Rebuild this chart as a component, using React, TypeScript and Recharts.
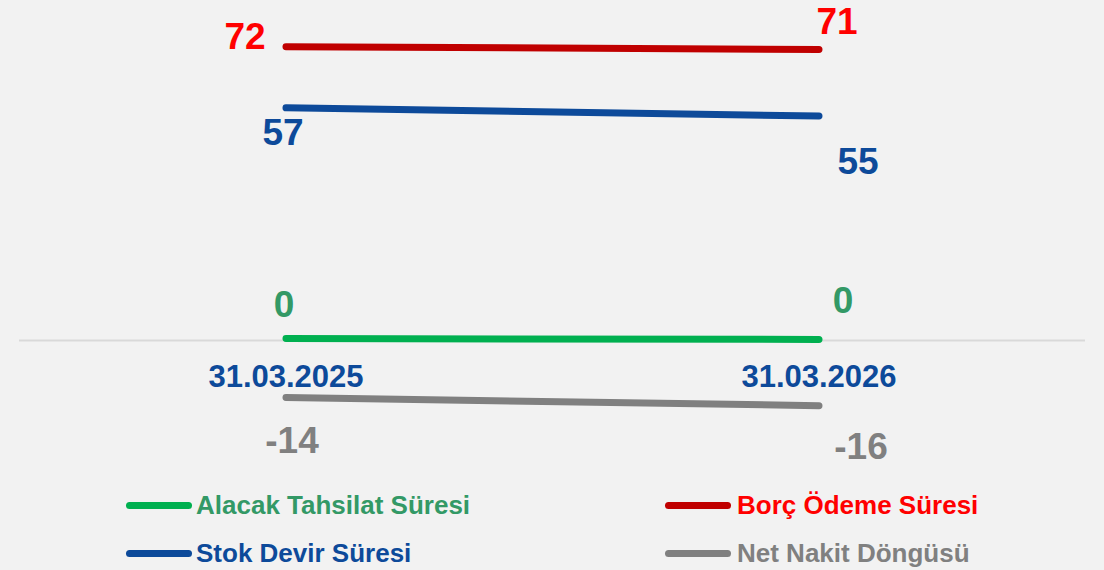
import React from 'react';
import { LineChart, Line, XAxis, YAxis, ReferenceLine, ReferenceDot } from 'recharts';

// ---- data ----
const categories = ['31.03.2025', '31.03.2026'];
const alacakTahsilat = [0.45, 0.25];
const stokDevir = [57, 55];
const borcOdeme = [72, 71.3];
const netNakit = [-14, -16];
const seriesNames = ['Alacak Tahsilat Süresi', 'Stok Devir Süresi', 'Borç Ödeme Süresi', 'Net Nakit Döngüsü'];

const data = categories.map((c, i) => ({
  date: c,
  alacak: alacakTahsilat[i],
  stok: stokDevir[i],
  borc: borcOdeme[i],
  net: netNakit[i],
}));

// ---- styles ----
const FONT = '"Liberation Sans", Arial, Helvetica, sans-serif';
const W = 1104;
const H = 570;

const series = [
  { key: 'alacak', name: seriesNames[0], line: '#00B050', text: '#339966', offsets: [[-2, -34], [24, -39]], col: 0, row: 0 },
  { key: 'stok', name: seriesNames[1], line: '#0D4A9A', text: '#0D4A9A', offsets: [[-3, 25], [39, 45]], col: 0, row: 1 },
  { key: 'borc', name: seriesNames[2], line: '#C00000', text: '#FF0000', offsets: [[-41, -10], [18, -28]], col: 1, row: 0 },
  { key: 'net', name: seriesNames[3], line: '#808080', text: '#808080', offsets: [[6, 43], [42, 41]], col: 1, row: 1 },
];

const legendCols = [{ icon: 126, text: 196 }, { icon: 665, text: 737 }];
const legendRows = [505, 553];

const makeLabel = (s: any) => (props: any) => {
  const { x, y, value, index } = props;
  if (x == null || y == null) return null;
  const off = s.offsets[index] || [0, 0];
  return (
    <text
      key={`${s.key}-lbl-${index}`}
      x={x + off[0]}
      y={y + off[1]}
      textAnchor="middle"
      dominantBaseline="central"
      fill={s.text}
      fontFamily={FONT}
      fontWeight="bold"
      fontSize={37}
    >
      {Math.round(Number(value))}
    </text>
  );
};

const DateLabel = (props: any) => {
  const vb = props.viewBox || {};
  const cx = (vb.x ?? 0) + (vb.width ?? 0) / 2;
  const cy = (vb.y ?? 0) + (vb.height ?? 0) / 2;
  return (
    <text
      x={cx}
      y={cy + 36}
      textAnchor="middle"
      dominantBaseline="central"
      fill="#0D4A9A"
      fontFamily={FONT}
      fontWeight="bold"
      fontSize={31}
    >
      {props.value}
    </text>
  );
};

export default function App() {
  return (
    <div
      style={{
        position: 'absolute',
        left: 0,
        top: 0,
        width: W,
        height: H,
        background: '#F2F2F2',
        overflow: 'hidden',
      }}
    >
      <LineChart width={W} height={H} data={data} margin={{ top: 14, right: 19, bottom: 148, left: 19 }}>
        <XAxis dataKey="date" hide padding={{ left: 267, right: 266 }} />
        <YAxis hide domain={[-20, 80]} />
        <ReferenceLine y={0} stroke="#D9D9D9" strokeWidth={2} />
        {series.map((s) => (
          <Line
            key={s.key}
            dataKey={s.key}
            name={s.name}
            stroke={s.line}
            strokeWidth={7}
            strokeLinecap="round"
            dot={false}
            activeDot={false}
            isAnimationActive={false}
            label={makeLabel(s)}
          />
        ))}
        {categories.map((c) => (
          <ReferenceDot
            key={c}
            x={c}
            y={0}
            r={0}
            fill="none"
            stroke="none"
            label={(p: any) => <DateLabel {...p} value={c} />}
          />
        ))}
      </LineChart>
      {series.map((s) => {
        const col = legendCols[s.col];
        const cy = legendRows[s.row];
        return (
          <React.Fragment key={`lg-${s.key}`}>
            <div
              style={{
                position: 'absolute',
                left: col.icon,
                top: cy - 3.5,
                width: 66,
                height: 7,
                borderRadius: 4,
                background: s.line,
              }}
            />
            <div
              style={{
                position: 'absolute',
                left: col.text,
                top: cy - 15,
                lineHeight: '30px',
                fontSize: 26,
                fontWeight: 'bold',
                fontFamily: FONT,
                color: s.text,
                whiteSpace: 'nowrap',
              }}
            >
              {s.name}
            </div>
          </React.Fragment>
        );
      })}
    </div>
  );
}
